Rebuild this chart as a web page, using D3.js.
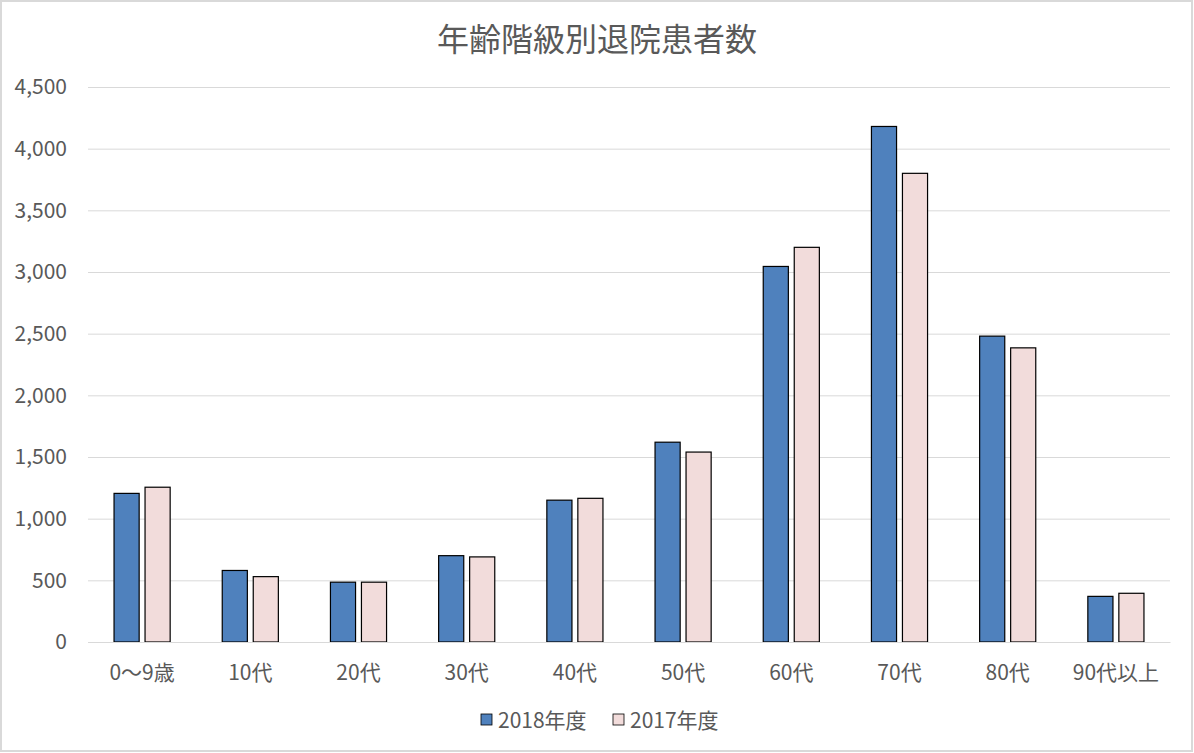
<!DOCTYPE html>
<html><head><meta charset="utf-8">
<script src="https://cdn.jsdelivr.net/npm/d3@7"></script>
<style>
html,body{margin:0;padding:0;background:#fff;}
svg{display:block;font-family:"Noto Sans CJK JP","Noto Sans",sans-serif;}
</style></head>
<body>
<script>
const categories = ["0～9歳","10代","20代","30代","40代","50代","60代","70代","80代","90代以上"];
const values2018 = [1205, 580, 485, 700, 1150, 1620, 3045, 4180, 2480, 370];
const values2017 = [1255, 530, 485, 690, 1165, 1540, 3200, 3800, 2385, 395];
const seriesNames = ["2018年度","2017年度"];
const seriesColors = ["#4f81bd","#f2dcdb"];
const yTicks = [0,500,1000,1500,2000,2500,3000,3500,4000,4500];
const title = "年齢階級別退院患者数";

const W = 1194, H = 753;
const svg = d3.select("body").append("svg").attr("width", W).attr("height", H);
svg.append("rect").attr("x",1).attr("y",1).attr("width",W-3).attr("height",H-3)
  .attr("fill","#fff").attr("stroke","#d9d9d9").attr("stroke-width",2);

const m = {left:88, right:1170, top:87, bottom:642};
const x = d3.scaleBand().domain(categories).range([m.left, m.right]).padding(0);
const y = d3.scaleLinear().domain([0,4500]).range([m.bottom, m.top]);

const textColor = "#595959";
const fontFam = "'Noto Sans CJK JP','Noto Sans',sans-serif";

svg.append("text").attr("x", 597).attr("y", 51).attr("text-anchor","middle")
  .attr("font-size", 32).attr("fill", textColor).text(title);

// gridlines
const yAxis = d3.axisLeft(y).tickValues(yTicks).tickSize(-(m.right-m.left)).tickFormat(d3.format(","));
const gy = svg.append("g").attr("transform",`translate(${m.left},0)`).call(yAxis);
gy.select(".domain").remove();
gy.selectAll(".tick line").attr("stroke","#d9d9d9").attr("stroke-width",1);
gy.selectAll(".tick text").attr("x",-21).attr("fill",textColor).attr("font-size",21)
  .attr("font-family",fontFam);

// bars
const sub = d3.scaleBand().domain([0,1]).range([0, x.bandwidth()]).paddingInner(0.19).paddingOuter(0.84);
const data = categories.map((c,i)=>({c, v:[values2018[i], values2017[i]]}));
const groups = svg.append("g").selectAll("g").data(data).join("g")
  .attr("transform", d=>`translate(${x(d.c)},0)`);
groups.selectAll("rect").data(d=>d.v.map((v,k)=>({v,k}))).join("rect")
  .attr("x", d=>sub(d.k)).attr("width", sub.bandwidth())
  .attr("y", d=>y(d.v)).attr("height", d=>y(0)-y(d.v))
  .attr("fill", d=>seriesColors[d.k]).attr("stroke","#000").attr("stroke-width",1.2);

// x axis labels
const xAxis = d3.axisBottom(x).tickSize(0);
const gx = svg.append("g").attr("transform",`translate(0,${m.bottom})`).call(xAxis);
gx.select(".domain").attr("stroke","#d9d9d9");
gx.selectAll(".tick text").attr("dy",0).attr("y",38).attr("fill",textColor).attr("font-size",21)
  .attr("font-family",fontFam);

// legend
const legend = svg.append("g");
const lx = [481, 613];
seriesNames.forEach((n,k)=>{
  legend.append("rect").attr("x",lx[k]).attr("y",714).attr("width",11).attr("height",11)
    .attr("fill",seriesColors[k]).attr("stroke","#000").attr("stroke-width",0.8);
  legend.append("text").attr("x",lx[k]+17).attr("y",728).attr("font-size",21)
    .attr("fill",textColor).text(n);
});
</script>
</body></html>
